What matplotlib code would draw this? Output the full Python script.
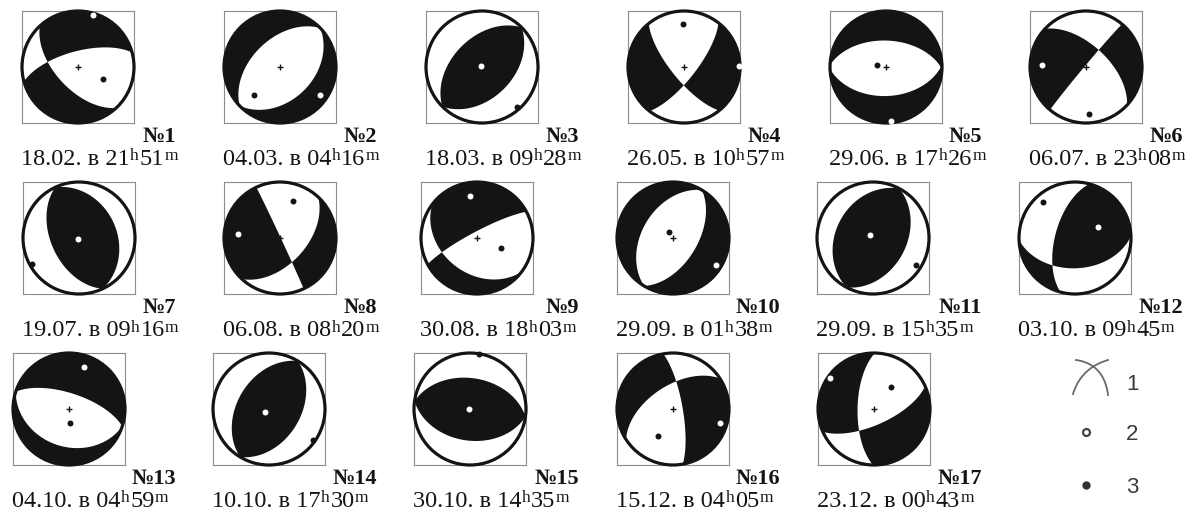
import numpy as np
import matplotlib
matplotlib.use("Agg")
import matplotlib.pyplot as plt
from matplotlib.patches import Circle

# Nodal planes of each focal mechanism (degrees)
strike1 = [137, 226, 225, 141, 272, 313, 155, 335, 127, 211, 208, 195, 288, 211, 278, 350, 181]
dip1 = [58, 49, 47, 72, 51, 59, 49, 89, 37, 44, 34, 61, 67, 43, 44, 76, 66]
strike2 = [255, 46, 45, 38, 88, 220, 335, 43, 242, 31, 28, 88, 108, 31, 98, 237, 66]
dip2 = [67, 40, 44, 73, 47, 88, 33, 52, 81, 54, 40, 45, 33, 43, 43, 56, 67]
# True where the centre of the sphere falls in the compressional (black) quadrant
center_black = [False, False, True, False, False, False, True, True, False,
                False, True, True, False, True, True, False, False]

# Tension (open) and compression (filled) axes: trend / plunge, degrees
t_trend = [16, 125, 315, 89, 175, 272, 245, 276, 350, 122, 320, 64, 20, 232, 250, 107, 305]
t_plunge = [4, 14, 87, 3, 3, 22, 88, 26, 24, 11, 84, 52, 21, 83, 88, 14, 4]
p_trend = [116, 223, 139, 358, 280, 176, 241, 19, 112, 326, 122, 319, 175, 125, 9, 208, 37]
p_plunge = [49, 32, 6, 25, 77, 17, 4, 30, 52, 79, 11, 15, 70, 4, 1, 44, 49]

# Event dates and origin times
dates = ["18.02.", "04.03.", "18.03.", "26.05.", "29.06.", "06.07.", "19.07.", "06.08.",
         "30.08.", "29.09.", "29.09.", "03.10.", "04.10.", "10.10.", "30.10.", "15.12.", "23.12."]
hours = ["21", "04", "09", "10", "17", "23", "09", "08", "18", "01", "15", "09", "04", "17", "14", "04", "00"]
minutes = ["51", "16", "28", "57", "26", "08", "16", "20", "03", "38", "35", "45", "59", "30", "35", "05", "43"]

W, H = 1189, 512
fig = plt.figure(figsize=(W / 100, H / 100), dpi=100)
fig.patch.set_facecolor("white")
renderer = fig.canvas.get_renderer()

BLACK = "#141414"
SERIF = "Liberation Serif"

# panel grid (pixels)
row_tops = [11, 182, 353]
box_lefts = [[22, 224, 426, 628, 830, 1030],
             [23, 224, 421, 617, 817, 1019],
             [13, 213, 414, 617, 818]]
BOX = 112


def fx(x):
    return x / W


def fy(y):
    return 1 - y / H


def normal(strike, dip):
    s, d = np.radians(strike), np.radians(dip)
    return np.array([-np.sin(d) * np.sin(s), np.sin(d) * np.cos(s), -np.cos(d)])


def project(trend, plunge):
    theta = np.radians(90 - plunge)
    r = np.sqrt(2) * np.sin(theta / 2)
    t = np.radians(trend)
    return r * np.sin(t), r * np.cos(t)


def time_label(x, y, date, hh, mm):
    """Write 'dd.mm. в HHʰMMᵐ' starting at pixel (x, y) on the baseline."""
    pieces = [(f"{date} в {hh}", 17.5, 0), ("h", 12.5, 4.5), (mm, 17.5, 0), ("m", 12.5, 4.5)]
    for txt, size, rise in pieces:
        t = fig.text(fx(x), fy(y - rise), txt, ha="left", va="baseline",
                     family=SERIF, fontsize=size, color=BLACK)
        bb = t.get_window_extent(renderer)
        x = bb.x1 + 0.5


# lower-hemisphere equal-area grid
g = np.linspace(-1.03, 1.03, 600)
GX, GY = np.meshgrid(g, g)
GR = np.clip(np.hypot(GX, GY), 0, 1)
TH = 2 * np.arcsin(GR / np.sqrt(2))
AZ = np.arctan2(GX, GY)
VN = np.sin(TH) * np.cos(AZ)
VE = np.sin(TH) * np.sin(AZ)
VD = np.cos(TH)

k = 0
for row, lefts in enumerate(box_lefts):
    top = row_tops[row]
    for col, left in enumerate(lefts):
        ax = fig.add_axes([fx(left), fy(top + BOX), BOX / W, BOX / H])
        ax.set_xlim(-1, 1)
        ax.set_ylim(-1, 1)
        ax.set_xticks([])
        ax.set_yticks([])
        for sp in ax.spines.values():
            sp.set_color("#8c8c8c")
            sp.set_linewidth(0.8)

        n1 = normal(strike1[k], dip1[k])
        n2 = normal(strike2[k], dip2[k])
        sign = 1.0 if center_black[k] else -1.0
        val = sign * (VN * n1[0] + VE * n1[1] + VD * n1[2]) * (VN * n2[0] + VE * n2[1] + VD * n2[2])
        cs = ax.contourf(GX, GY, val, levels=[0, 10], colors=[BLACK], antialiased=True)
        cs.set_clip_path(Circle((0, 0), 1, transform=ax.transData))

        ax.add_patch(Circle((0, 0), 1, fill=False, ec=BLACK, lw=2.3, clip_on=False, zorder=3))
        ax.plot(0, 0, marker="+", ms=4, mew=1.0, color=BLACK, zorder=4)
        tx, ty = project(t_trend[k], t_plunge[k])
        px, py = project(p_trend[k], p_plunge[k])
        ax.plot(tx, ty, "o", ms=4.3, mfc="white", mec="none", zorder=5, clip_on=False)
        ax.plot(px, py, "o", ms=4.3, mfc=BLACK, mec="none", zorder=5, clip_on=False)

        fig.text(fx(176 + 201.5 * col), fy(top + 131), f"№{k + 1}", ha="right",
                 va="baseline", family=SERIF, weight="bold", fontsize=16, color=BLACK)
        time_label(left - 1, top + 154, dates[k], hours[k], minutes[k])
        k += 1

# legend: nodal planes, tension axis, compression axis
lg = fig.add_axes([0, 0, 1, 1], facecolor="none")
lg.set_xlim(0, W)
lg.set_ylim(H, 0)
lg.axis("off")
tt = np.linspace(0, 1, 50)


def bezier(p0, p1, p2):
    x = (1 - tt) ** 2 * p0[0] + 2 * (1 - tt) * tt * p1[0] + tt ** 2 * p2[0]
    y = (1 - tt) ** 2 * p0[1] + 2 * (1 - tt) * tt * p1[1] + tt ** 2 * p2[1]
    return x, y


GREY = "#6a6a6a"
lg.plot(*bezier((1073, 394), (1081, 368), (1108, 360)), color=GREY, lw=1.3)
lg.plot(*bezier((1076, 360), (1104, 364), (1108, 395)), color=GREY, lw=1.3)
lg.plot(1086, 432, "o", ms=5, mfc="white", mec="#444444", mew=1.6)
lg.plot(1086, 485, "o", ms=6, mfc="#333333", mec="none")
for lab, yb in zip(["1", "2", "3"], [390, 440, 493]):
    lg.text(1126, yb, lab, ha="left", va="baseline", family="Liberation Sans",
            fontsize=16, color="#3a3a3a")

fig.savefig("out.png", dpi=100, facecolor="white")
